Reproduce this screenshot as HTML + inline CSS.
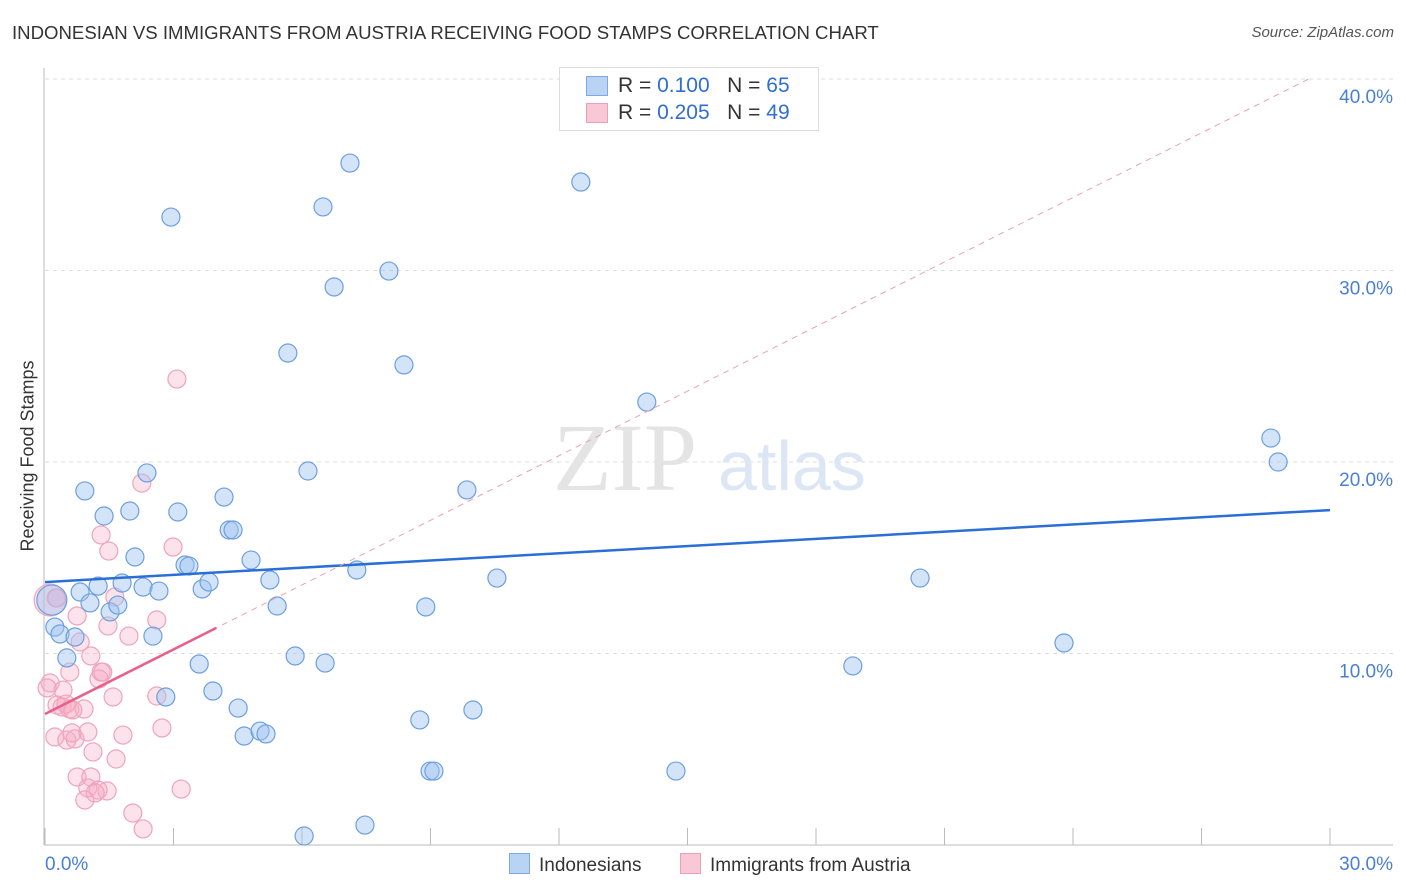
<!DOCTYPE html>
<html><head><meta charset="utf-8">
<style>
body{margin:0;background:#fff;font-family:"Liberation Sans",sans-serif;}
#wrap{position:relative;width:1406px;height:892px;overflow:hidden;}
.t{position:absolute;white-space:nowrap;}
</style></head>
<body>
<div id="wrap">
<div class="t" style="left:12px;top:22px;font-size:18.6px;color:#333;">INDONESIAN VS IMMIGRANTS FROM AUSTRIA RECEIVING FOOD STAMPS CORRELATION CHART</div>
<div class="t" style="right:12px;top:24px;font-size:15px;color:#555;font-style:italic;">Source: ZipAtlas.com</div>
<svg id="svg" width="1406" height="892" style="position:absolute;left:0;top:0"></svg>
</div>
<script>
const xTicks=[0,30];
const yTicks=[10,20,30,40];
const blueX=[0.16,0.23,0.35,0.51,0.70,0.82,0.93,1.05,1.24,1.38,1.52,1.70,1.80,1.98,2.10,2.29,2.38,2.52,2.66,2.82,2.94,3.10,3.27,3.36,3.60,3.67,3.83,3.92,4.18,4.30,4.39,4.51,4.65,4.81,5.02,5.16,5.25,5.42,5.67,5.84,6.05,6.14,6.49,6.54,6.75,7.12,7.28,7.47,8.03,8.38,8.75,8.89,8.99,9.08,9.85,9.99,10.55,12.51,14.05,14.73,18.86,20.43,23.79,28.62,28.79];
const blueY=[12.79,11.38,11.02,9.77,10.86,13.21,18.49,12.64,13.52,17.18,12.17,12.53,13.68,17.44,15.04,13.47,19.43,10.91,13.26,7.73,32.79,17.39,14.62,14.57,9.45,13.37,13.73,8.04,18.17,16.45,16.45,7.15,5.69,14.88,5.95,5.80,13.84,12.48,25.69,9.87,0.47,19.53,33.32,9.50,29.14,35.61,14.36,1.04,29.97,25.07,6.53,12.43,3.86,3.86,18.54,7.05,13.94,34.62,23.13,3.86,9.35,13.94,10.55,21.25,20.00];
const pinkX=[0.12,2.26,1.31,1.49,2.99,1.63,0.28,0.75,2.61,1.47,1.96,0.82,1.07,0.58,1.31,1.26,0.12,0.42,1.59,2.61,0.28,0.40,0.58,0.91,0.23,0.51,0.70,0.63,1.00,1.82,2.73,1.12,1.66,0.75,1.07,1.00,1.24,1.45,1.17,0.93,3.18,2.05,2.29,3.08,0.05,0.26,0.49,0.65,1.35];
const pinkY=[12.79,18.90,16.19,15.35,15.56,12.95,12.90,11.96,11.75,11.44,10.91,10.60,9.87,9.03,9.03,8.67,8.46,8.09,7.73,7.78,7.31,7.21,7.10,7.10,5.64,5.48,5.54,5.85,5.90,5.74,6.11,4.86,4.49,3.55,3.55,2.98,2.87,2.82,2.72,2.35,2.92,1.67,0.84,24.33,8.20,12.90,7.36,7.05,9.03];
const blueTrend=[13.73,17.49];
const pinkTrend=[6.84,1.124];
const pinkSolidEnd=4.0;

const X0=45,X1=1330,Y0=845,Y40=79;
const sx=v=>X0+(X1-X0)*v/30;
const sy=v=>Y0-(Y0-Y40)*v/40;
const svg=document.getElementById('svg');
const NS='http://www.w3.org/2000/svg';
function mk(t,a){const e=document.createElementNS(NS,t);for(const k in a)e.setAttribute(k,a[k]);svg.appendChild(e);return e;}

yTicks.forEach(v=>{
 const g=mk('line',{x1:X0,x2:1393,y1:sy(v),y2:sy(v),stroke:'#ddd','stroke-dasharray':'4,4'});
 
 
 const t=mk('text',{x:1393,y:sy(v)+24,'text-anchor':'end','font-size':19,fill:'#4a7fd6','font-family':'Liberation Sans, sans-serif'});
 t.textContent=v.toFixed(1)+'%';
 
 
});
for(let i=0;i<=10;i++){
 const x=X0+(X1-X0)*i/10;
 const l=mk('line',{x1:x,x2:x,y1:828,y2:Y0,stroke:'#bbb'});
 
 
}
mk('line',{x1:44,x2:44,y1:68,y2:Y0,stroke:'#bbb'});
mk('line',{x1:44,x2:1393,y1:Y0,y2:Y0,stroke:'#bbb'});
xTicks.forEach((v,i)=>{
 const t=mk('text',{x:i==0?sx(v):1393,y:870,'text-anchor':i==0?'start':'end','font-size':19,fill:'#4a7fd6','font-family':'Liberation Sans, sans-serif'});
 t.textContent=v.toFixed(1)+'%';
 
 
});
const w1=mk('text',{x:553,y:490,'font-size':96,fill:'#e4e4e4','font-family':'Liberation Serif, serif'});w1.textContent='ZIP';


const w2=mk('text',{x:718,y:490,'font-size':70,fill:'#dce6f5','font-family':'Liberation Sans, sans-serif'});w2.textContent='atlas';



pinkX.forEach((x,i)=>{
 const c=mk('circle',{cx:sx(x),cy:sy(pinkY[i]),r:i==0?16:9,fill:'rgba(246,172,198,0.35)',stroke:'#f0a3bb','stroke-width':1.2});
 
 
});
blueX.forEach((x,i)=>{
 const c=mk('circle',{cx:sx(x),cy:sy(blueY[i]),r:i==0?15:9,fill:'rgba(160,196,240,0.45)',stroke:'#6c9fe0','stroke-width':1.2});
 
 
});
const bl=mk('line',{x1:sx(0),y1:sy(blueTrend[0]),x2:sx(30),y2:sy(blueTrend[1]),stroke:'#2a6fd6','stroke-width':2.5});


const xe=(40-pinkTrend[0])/pinkTrend[1];
const pd=mk('line',{x1:sx(0),y1:sy(pinkTrend[0]),x2:sx(xe),y2:sy(40),stroke:'#eba0b8','stroke-width':1,'stroke-dasharray':'6,5'});


const pl=mk('line',{x1:sx(0),y1:sy(pinkTrend[0]),x2:sx(pinkSolidEnd),y2:sy(pinkTrend[0]+pinkTrend[1]*pinkSolidEnd),stroke:'#e8608a','stroke-width':2.5});


</script>
<div class="t" style="left:28px;top:456px;font-size:18px;color:#333;transform:translate(-50%,-50%) rotate(-90deg);">Receiving Food Stamps</div>
<div style="position:absolute;left:559px;top:67px;width:258px;height:62px;border:1px solid #ddd;background:#fff;font-size:21px;">
 <div style="position:absolute;left:26px;top:8px;width:20px;height:18px;background:#b9d3f5;border:1px solid #7fa8e3;"></div>
 <div class="t" style="left:58px;top:6px;color:#333;">R = <span style="color:#2f6fd3">0.100</span>&nbsp;&nbsp;&nbsp;N = <span style="color:#2f6fd3">65</span></div>
 <div style="position:absolute;left:26px;top:35px;width:20px;height:18px;background:#f8c8d6;border:1px solid #ee9fb8;"></div>
 <div class="t" style="left:58px;top:33px;color:#333;">R = <span style="color:#2f6fd3">0.205</span>&nbsp;&nbsp;&nbsp;N = <span style="color:#2f6fd3">49</span></div>
</div>
<div style="position:absolute;left:509px;top:853px;font-size:19px;color:#333;">
 <span style="display:inline-block;width:19px;height:19px;background:#b9d3f5;border:1px solid #7fa8e3;vertical-align:-3px;margin-right:9px;"></span>Indonesians</div>
<div style="position:absolute;left:680px;top:853px;font-size:19px;color:#333;">
 <span style="display:inline-block;width:19px;height:19px;background:#f8c8d6;border:1px solid #ee9fb8;vertical-align:-3px;margin-right:9px;"></span>Immigrants from Austria</div>
</body></html>
